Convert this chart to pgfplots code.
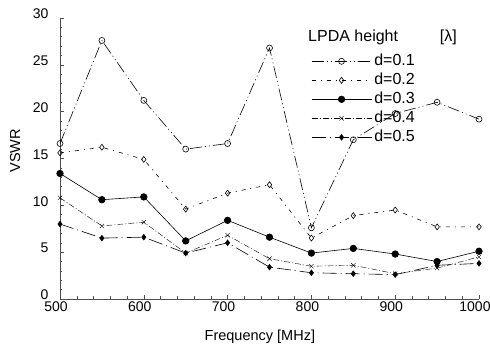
\documentclass[border=0pt]{standalone}
\usepackage{pgfplots}
\pgfplotsset{compat=1.18}
\usepackage{fontspec}
\setmainfont{Liberation Sans}
\begin{document}
\begin{tikzpicture}
\begin{axis}[
  scale only axis, width=419pt, height=281pt,
  xmin=500, xmax=1000, ymin=0, ymax=30,
  axis x line*=bottom, axis y line*=left,
  axis line style={black!70, line width=0.5pt},
  xtick={500,600,...,1000}, ytick={0,5,...,30},
  minor x tick num=4, minor y tick num=4,
  tick align=inside, major tick length=4pt, minor tick length=2.5pt,
  tick style={black!70, line width=0.5pt},
  /pgf/number format/assume math mode=true,
  /pgf/number format/1000 sep={},
  ticklabel style={font=\fontsize{14}{16}\selectfont},
  xticklabel style={xshift=-4pt, yshift=1pt},
  yticklabel style={xshift=-8pt, yshift=4pt},
  xlabel={Frequency [MHz]}, ylabel={VSWR},
  label style={font=\fontsize{14.5}{16}\selectfont},
  xlabel style={at={(axis description cs:0.477,-0.135)}, anchor=center},
  ylabel style={at={(axis description cs:-0.107,0.527)}, anchor=center},
  legend style={at={(0.592,0.883)}, anchor=north west, draw=none, fill=none,
    font=\fontsize{16}{17}\selectfont, row sep=2.5pt,
    nodes={inner ysep=1pt, inner xsep=2.5pt, text height=11.5pt, text depth=3pt}},
  legend cell align=left,
  legend image code/.code={
    \draw[#1, mark=none] (0pt,0pt) -- (60pt,0pt);
    \draw[#1, solid] plot coordinates {(30pt,0pt)};
  },
  every axis plot/.append style={black, line width=0.6pt},
]
\addplot[dash pattern={on 12pt off 3pt on 1pt off 3pt on 1pt off 3pt}, mark=o, mark size=3pt, mark options={solid, fill=white}] coordinates {
(500,16.6) (550,27.6) (600,21.2) (650,16.0) (700,16.6) (750,26.8) (800,7.6) (850,17.0) (900,19.8) (950,21.0) (1000,19.2)};
\addlegendentry{d=0.1}
\addplot[dash pattern={on 4pt off 5pt on 1pt off 5pt}, mark=diamond, mark size=3pt, mark options={solid, fill=white}] coordinates {
(500,15.6) (550,16.2) (600,14.9) (650,9.6) (700,11.3) (750,12.2) (800,6.5) (850,8.9) (900,9.5) (950,7.7) (1000,7.7)};
\addlegendentry{d=0.2}
\addplot[solid, mark=*, mark size=3.3pt] coordinates {
(500,13.4) (550,10.6) (600,10.9) (650,6.2) (700,8.4) (750,6.6) (800,4.9) (850,5.4) (900,4.8) (950,4.0) (1000,5.1)};
\addlegendentry{d=0.3}
\addplot[line width=0.4pt, dash pattern={on 6pt off 2pt on 1pt off 2pt}, mark=x, mark size=3pt, mark options={solid}] coordinates {
(500,10.8) (550,7.8) (600,8.2) (650,4.9) (700,6.8) (750,4.3) (800,3.5) (850,3.6) (900,2.7) (950,3.3) (1000,4.5)};
\addlegendentry{d=0.4}
\addplot[dash pattern={on 14pt off 4pt on 1pt off 4pt}, mark=diamond*, mark size=2.8pt, mark options={solid}] coordinates {
(500,8.0) (550,6.5) (600,6.6) (650,4.9) (700,6.0) (750,3.4) (800,2.8) (850,2.7) (900,2.6) (950,3.6) (1000,3.8)};
\addlegendentry{d=0.5}
\node[anchor=west, font=\fontsize{16}{17}\selectfont, inner sep=0pt] at (axis cs:796,27.9) {LPDA height};
\node[anchor=west, font=\fontsize{16}{17}\selectfont, inner sep=0pt] at (axis cs:953,27.9) {[λ]};
\end{axis}
\pgfresetboundingbox
\path[use as bounding box] (-60pt,-45pt) rectangle (430pt,299pt);
\end{tikzpicture}
\end{document}
